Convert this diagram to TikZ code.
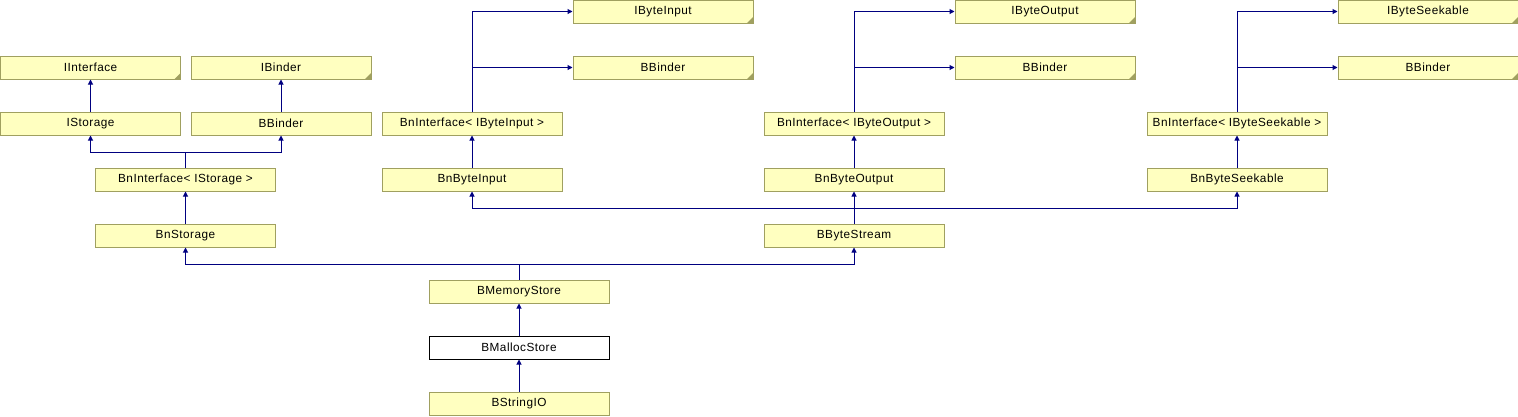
\documentclass[tikz,border=0pt]{standalone}
\usepackage{fontspec}
\setmainfont{Liberation Sans}[LetterSpace=4]
\usetikzlibrary{arrows.meta}
\definecolor{nodefill}{HTML}{FFFFC0}
\definecolor{nodeline}{HTML}{A0A060}
\definecolor{edgeblue}{HTML}{000080}
\tikzset{
  cls/.style={draw=nodeline, fill=nodefill, line width=1pt, minimum width=180pt, minimum height=23pt, inner sep=0pt, font=\fontsize{11.8}{14}\selectfont},
  ext/.style={cls, path picture={\fill[nodeline] (path picture bounding box.south east) -- ++(-6pt,0pt) -- ++(6pt,6pt) -- cycle;}},
  cur/.style={cls, draw=black, fill=white},
  inh/.style={draw=edgeblue, line width=1pt, -{Triangle[length=5pt,width=5pt]}},
  ln/.style={draw=edgeblue, line width=1pt}
}
\begin{document}
\begin{tikzpicture}[x=1pt,y=-1pt]
\useasboundingbox (0,0) rectangle (1518,416);
% column A/B
\node[ext] (IInterface) at (90.5,67.5) {IInterface};
\node[ext] (IBinder) at (281,67.5) {IBinder};
\node[cls] (IStorage) at (90.5,123.5) {IStorage};
\node[cls] (BBinderB) at (281,123.5) {BBinder};
\node[cls] (BnIStorage) at (185.5,179.5) {BnInterface<~IStorage~>};
\node[cls] (BnStorage) at (185.5,235.5) {BnStorage};
% input
\node[ext] (IByteInput) at (663,11.5) {IByteInput};
\node[ext] (BBinderD) at (663,67.5) {BBinder};
\node[cls] (BnIByteInput) at (472,123.5) {BnInterface<~IByteInput~>};
\node[cls] (BnByteInput) at (472,179.5) {BnByteInput};
% output
\node[ext] (IByteOutput) at (1045,11.5) {IByteOutput};
\node[ext] (BBinderG) at (1045,67.5) {BBinder};
\node[cls] (BnIByteOutput) at (854,123.5) {BnInterface<~IByteOutput~>};
\node[cls] (BnByteOutput) at (854,179.5) {BnByteOutput};
\node[cls] (BByteStream) at (854,235.5) {BByteStream};
% seekable
\node[ext] (IByteSeekable) at (1428,11.5) {IByteSeekable};
\node[ext] (BBinderI) at (1428,67.5) {BBinder};
\node[cls] (BnIByteSeekable) at (1237,123.5) {BnInterface<~IByteSeekable~>};
\node[cls] (BnByteSeekable) at (1237,179.5) {BnByteSeekable};
% bottom
\node[cls] (BMemoryStore) at (519,291.5) {BMemoryStore};
\node[cur] (BMallocStore) at (519,347.5) {BMallocStore};
\node[cls] (BStringIO) at (519,403.5) {BStringIO};
% junctions
\coordinate (j1) at (185.5,152);
\coordinate (j2) at (854,208);
\coordinate (j3) at (519,264);
% edges
\draw[inh] (IStorage) -- (IInterface);
\draw[inh] (BBinderB) -- (IBinder);
\draw[ln] (BnIStorage.north) -- (j1);
\draw[inh] (j1) -| (IStorage.south);
\draw[inh] (j1) -| (BBinderB.south);
\draw[inh] (BnStorage) -- (BnIStorage);
\draw[inh] (BnByteInput) -- (BnIByteInput);
\draw[inh] (BnIByteInput.north) |- (IByteInput.west);
\draw[inh] (BnIByteInput.north) |- (BBinderD.west);
\draw[inh] (BnByteOutput) -- (BnIByteOutput);
\draw[inh] (BnIByteOutput.north) |- (IByteOutput.west);
\draw[inh] (BnIByteOutput.north) |- (BBinderG.west);
\draw[inh] (BnByteSeekable) -- (BnIByteSeekable);
\draw[inh] (BnIByteSeekable.north) |- (IByteSeekable.west);
\draw[inh] (BnIByteSeekable.north) |- (BBinderI.west);
\draw[ln] (BByteStream.north) -- (j2);
\draw[inh] (j2) -| (BnByteInput.south);
\draw[inh] (j2) -- (BnByteOutput.south);
\draw[inh] (j2) -| (BnByteSeekable.south);
\draw[ln] (BMemoryStore.north) -- (j3);
\draw[inh] (j3) -| (BnStorage.south);
\draw[inh] (j3) -| (BByteStream.south);
\draw[inh] (BMallocStore) -- (BMemoryStore);
\draw[inh] (BStringIO) -- (BMallocStore);
\end{tikzpicture}
\end{document}
